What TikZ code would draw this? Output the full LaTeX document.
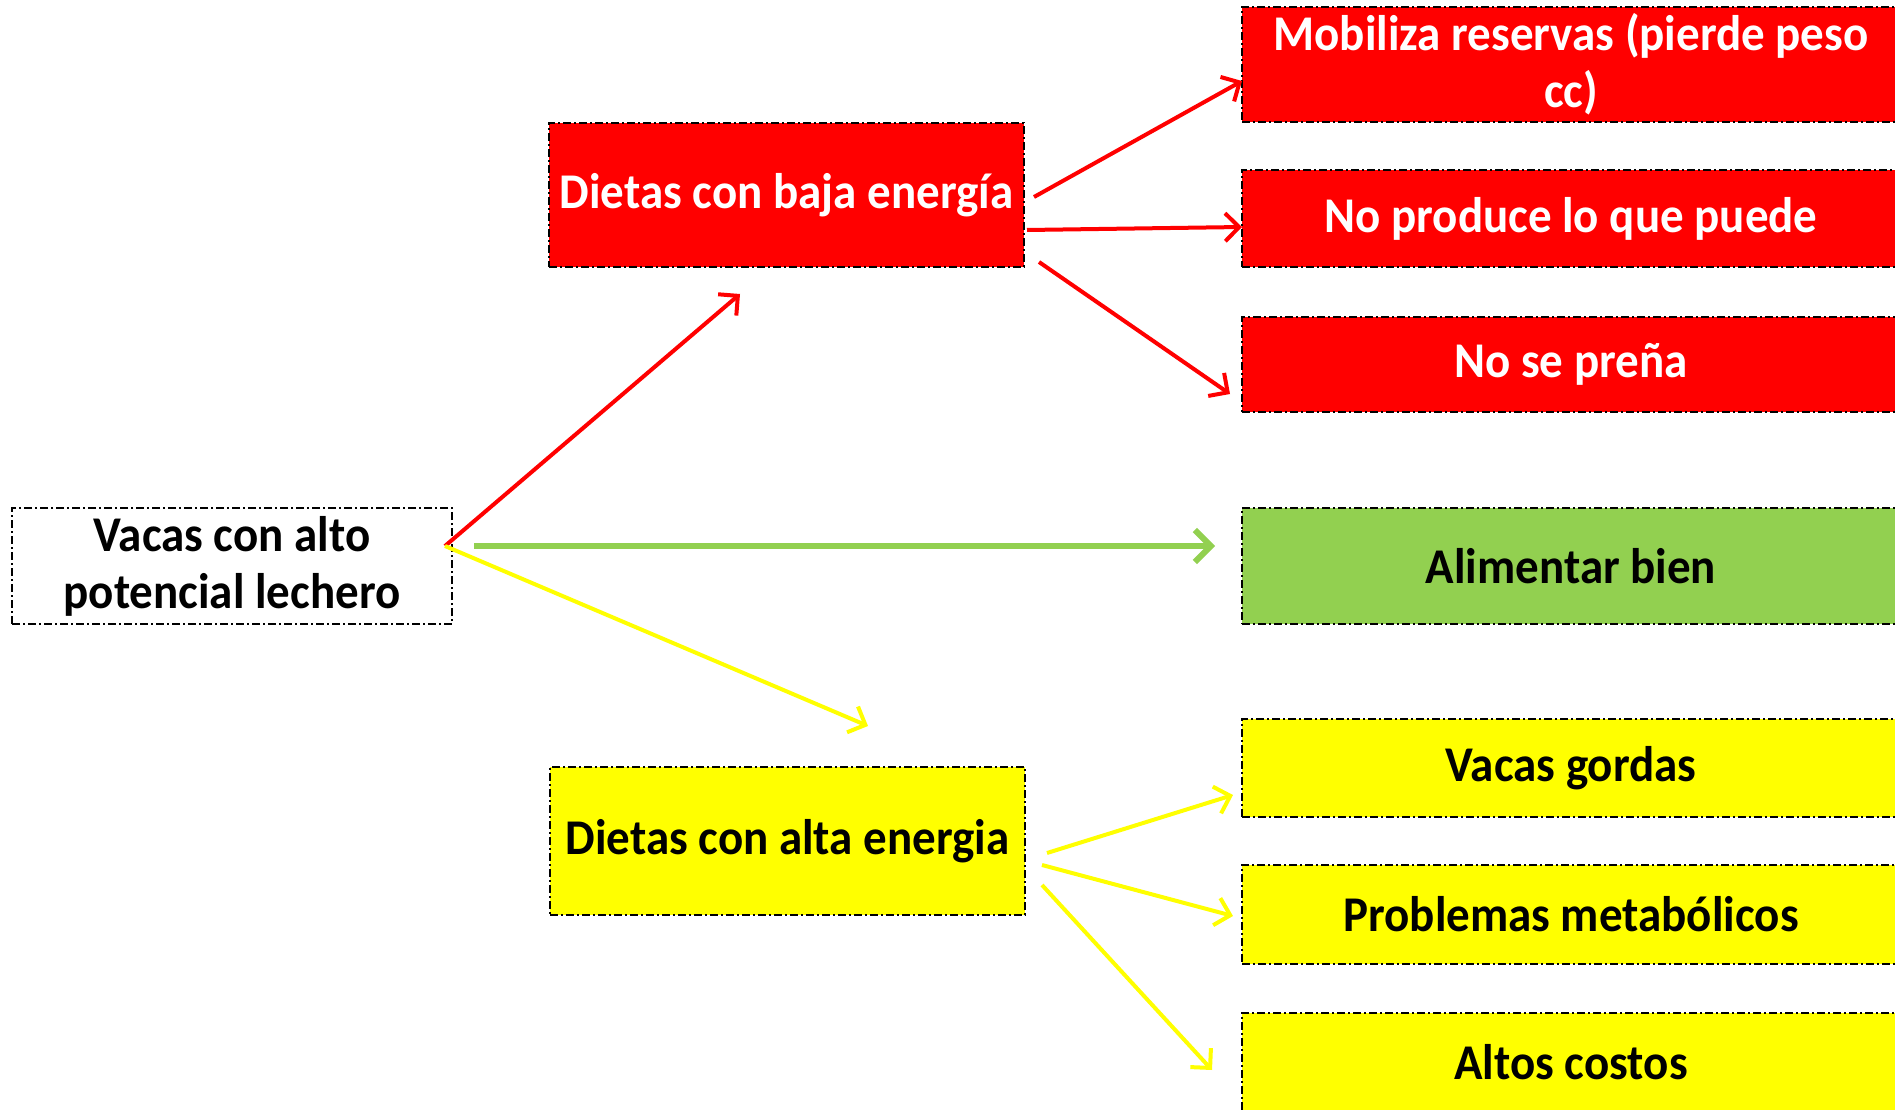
\documentclass[tikz,border=0pt]{standalone}
\usepackage{fontspec}
\setmainfont{Carlito}[FakeStretch=0.94]
\usetikzlibrary{arrows.meta}
\definecolor{rd}{HTML}{FF0000}
\definecolor{gr}{HTML}{92D050}
\definecolor{yl}{HTML}{FFFF00}
\begin{document}
\begin{tikzpicture}[x=1pt,y=-1pt,
  box/.style={draw=black, line width=2.2pt, dash pattern=on 8pt off 3pt on 2pt off 3pt,
    inner sep=0pt, align=center, font=\fontsize{50}{57}\selectfont\bfseries},
  redbox/.style={box, fill=rd, text=white},
  yelbox/.style={box, fill=yl, text=black},
  grnbox/.style={box, fill=gr, text=black},
  whtbox/.style={box, fill=white, text=black},
  rightbox/.style={minimum width=658pt},
  redarr/.style={draw=rd, line width=4pt, -{Straight Barb[length=14pt,width=28pt]}},
  yelarr/.style={draw=yl, line width=4pt, -{Straight Barb[length=14pt,width=28pt]}},
  grnarr/.style={draw=gr, line width=6pt, -{Straight Barb[length=16pt,width=32pt]}}
]
\useasboundingbox (0,0) rectangle (1895,1110);
\fill[white] (0,0) rectangle (1895,1110);

\node[whtbox, minimum width=440pt, minimum height=116pt] (vacas) at (232,566) {Vacas con alto\\potencial lechero};
\node[redbox, minimum width=475pt, minimum height=144pt] (baja) at (786.5,195) {Dietas con baja energía};
\node[yelbox, minimum width=475pt, minimum height=148pt] (alta) at (787.5,841) {Dietas con alta energia};

\node[redbox, rightbox, minimum height=115pt] (mob) at (1571,64.5) {Mobiliza reservas (pierde peso\\cc)};
\node[redbox, rightbox, minimum height=97pt] (prod) at (1571,218.5) {No produce lo que puede};
\node[redbox, rightbox, minimum height=95pt] (prena) at (1571,364.5) {No se preña};
\node[grnbox, rightbox, minimum height=116pt] (alim) at (1571,566) {Alimentar bien};
\node[yelbox, rightbox, minimum height=98pt] (gordas) at (1571,768) {Vacas gordas};
\node[yelbox, rightbox, minimum height=99pt] (probl) at (1571,914.5) {Problemas metabólicos};
\node[yelbox, rightbox, minimum height=99pt] (costos) at (1571,1062.5) {Altos costos};

\coordinate (c1s) at (445,546);
\coordinate (c1e) at (740,294);
\coordinate (c2s) at (474,546);
\coordinate (c2e) at (1215,546);
\coordinate (c3s) at (445,546);
\coordinate (c3e) at (868,726);
\coordinate (r1s) at (1034,197);
\coordinate (r1e) at (1242,81);
\coordinate (r2s) at (1027,230);
\coordinate (r2e) at (1242,227);
\coordinate (r3s) at (1039,262);
\coordinate (r3e) at (1230,394);
\coordinate (y1s) at (1047,853);
\coordinate (y1e) at (1233,795);
\coordinate (y2s) at (1042,865);
\coordinate (y2e) at (1233,916);
\coordinate (y3s) at (1042,885);
\coordinate (y3e) at (1212,1070);

\draw[redarr] (c1s) -- (c1e);
\draw[grnarr] (c2s) -- (c2e);
\draw[yelarr] (c3s) -- (c3e);
\draw[redarr] (r1s) -- (r1e);
\draw[redarr] (r2s) -- (r2e);
\draw[redarr] (r3s) -- (r3e);
\draw[yelarr] (y1s) -- (y1e);
\draw[yelarr] (y2s) -- (y2e);
\draw[yelarr] (y3s) -- (y3e);
\end{tikzpicture}
\end{document}
